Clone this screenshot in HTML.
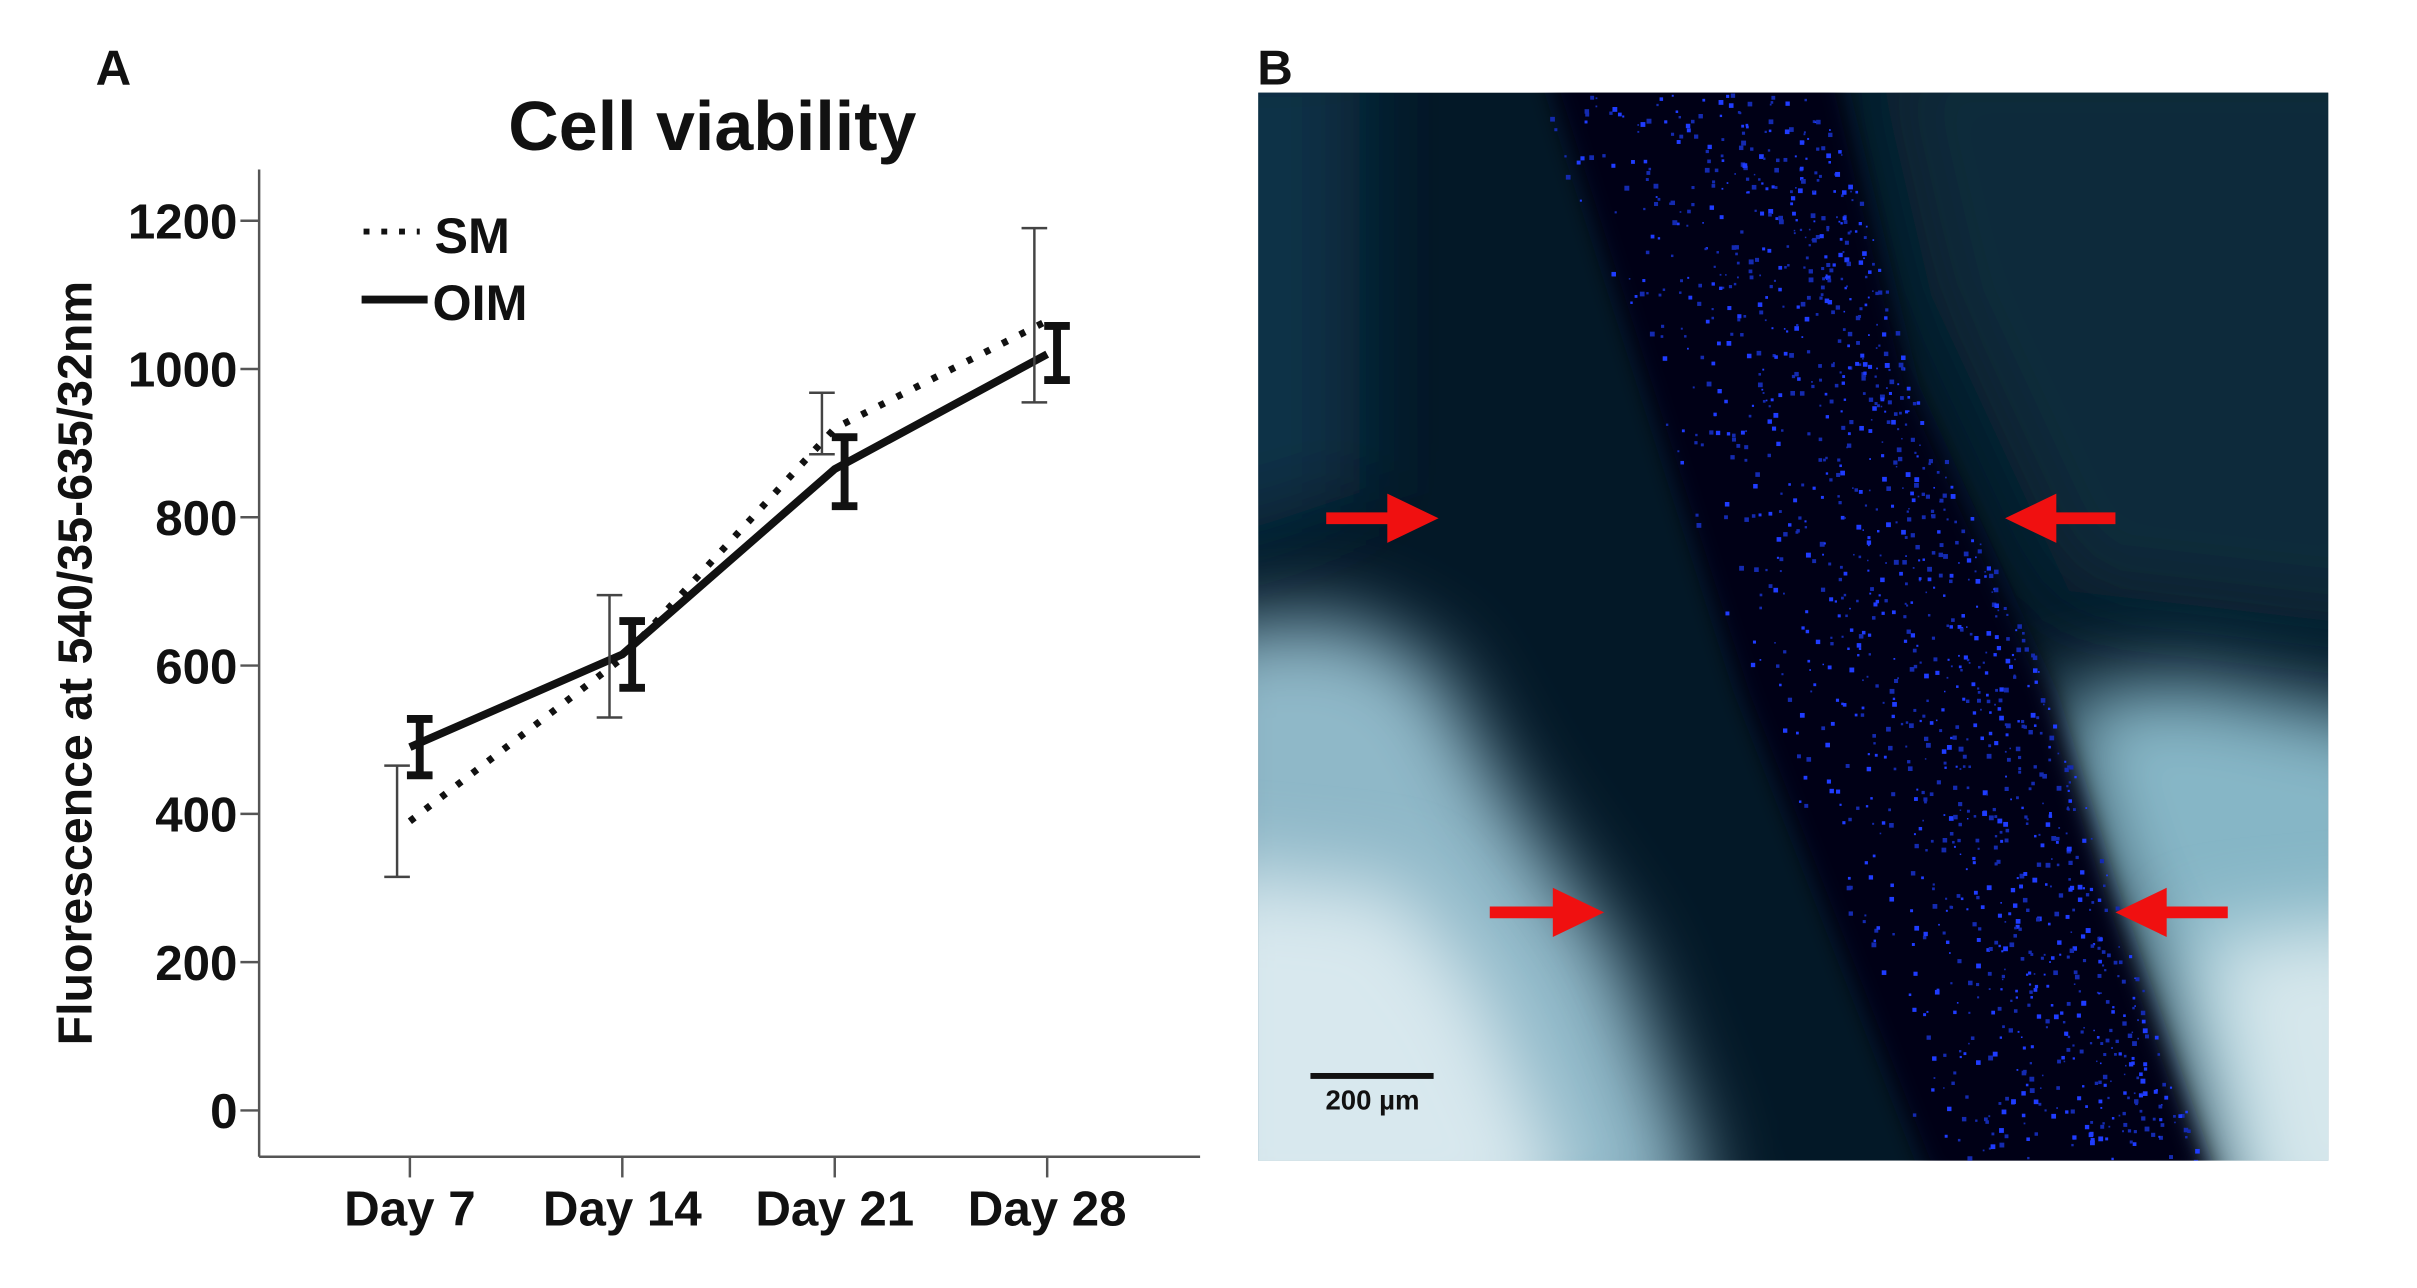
<!DOCTYPE html>
<html><head><meta charset="utf-8">
<style>
html,body{margin:0;padding:0;background:#fff;}
svg{display:block;}
text{font-family:"Liberation Sans",Arial,sans-serif;font-weight:bold;fill:#111;}
</style></head>
<body>
<svg id="fig" width="2417" height="1288" viewBox="0 0 2417 1288" xmlns="http://www.w3.org/2000/svg">
<defs>
<filter id="blur30" x="-60%" y="-60%" width="220%" height="220%"><feGaussianBlur stdDeviation="40"/></filter>
<filter id="blur12" x="-20%" y="-20%" width="140%" height="140%"><feGaussianBlur stdDeviation="12"/></filter>
<clipPath id="imgclip"><rect x="1277" y="94" width="1086" height="1084"/></clipPath>
</defs>
<g transform="scale(0.9853)">
<text x="97" y="86" font-size="50">A</text>
<text x="723" y="152" font-size="71" text-anchor="middle">Cell viability</text>
<text transform="translate(93,673) rotate(-90)" font-size="49" text-anchor="middle">Fluorescence at 540/35-635/32nm</text>
<g id="axes"></g>
<g id="marks"></g>
<g>
<line x1="369" y1="235" x2="426" y2="235" stroke="#111" stroke-width="6" stroke-dasharray="6,12"/>
<text x="441" y="257" font-size="51">SM</text>
<line x1="367" y1="304" x2="434" y2="304" stroke="#111" stroke-width="8"/>
<text x="439" y="325" font-size="51">OIM</text>
</g>

<text x="1276" y="86" font-size="50">B</text>
<g clip-path="url(#imgclip)">
<rect x="1277" y="94" width="1086" height="1084" fill="#031827"/>
<polygon points="1900,40 2450,40 2450,640 2100,600 1960,300" fill="#0a2a3a" filter="url(#blur30)"/>
<polygon points="1200,40 1380,40 1380,500 1200,560" fill="#0a3346" filter="url(#blur30)"/>
<polygon points="1200,640 1362,626 1455,673 1534,814 1643,970 1722,1178 1722,1260 1200,1260" fill="#8fb8c8" filter="url(#blur30)"/>
<polygon points="1200,880 1420,900 1500,1000 1580,1178 1580,1260 1200,1260" fill="#d8e8ee" filter="url(#blur30)"/>
<polygon points="2081,704 2222,689 2450,736 2450,1260 2280,1260 2191,1017 2128,876" fill="#86b6c6" filter="url(#blur30)"/>
<polygon points="2230,950 2450,930 2450,1260 2290,1260" fill="#d6e7ec" filter="url(#blur30)"/>
<polygon points="1565,60 1862,60 1940,391 2081,704 2144,908 2245,1200 1960,1200 1768,704" fill="#020619" filter="url(#blur12)"/>
<g id="speckles"></g>
</g>
<g>
<polygon points="1346,520 1408,520 1408,501 1460,526 1408,551 1408,532 1346,532" fill="#f01010"/>
<polygon points="2147,520 2087,520 2087,501 2035,526 2087,551 2087,532 2147,532" fill="#f01010"/>
<polygon points="1512,920 1576,920 1576,901 1628,926 1576,951 1576,932 1512,932" fill="#f01010"/>
<polygon points="2261,920 2199,920 2199,901 2147,926 2199,951 2199,932 2261,932" fill="#f01010"/>
</g>
<rect x="1330" y="1089" width="125" height="6" fill="#111"/>
<text x="1393" y="1126" font-size="28" text-anchor="middle">200 µm</text>
</g>
</svg>
<script>
const categories = ["Day 7","Day 14","Day 21","Day 28"];
const yTicks = [0,200,400,600,800,1000,1200];
const smMean = [390,610,920,1065];
const smLow = [315,530,885,955];
const smHigh = [465,695,968,1190];
const oimMean = [490,615,865,1020];
const oimLow = [452,570,815,985];
const oimHigh = [528,660,908,1058];

const NS = "http://www.w3.org/2000/svg";
const x0 = 416, xStep = 215.6;
function xScale(i){ return x0 + i*xStep; }
function yScale(v){ return 1127 - v*(1127-224)/1200; }
function mk(tag, attrs, parent){
  const e = document.createElementNS(NS, tag);
  for (const k in attrs) e.setAttribute(k, attrs[k]);
  parent.appendChild(e);
  return e;
}
const axes = document.getElementById('axes');
const marks = document.getElementById('marks');

const yl = mk('line',{x1:263,y1:172,x2:263,y2:1174,stroke:'#555','stroke-width':2.5},axes);


const xl = mk('line',{x1:263,y1:1174,x2:1218,y2:1174,stroke:'#555','stroke-width':2.5},axes);



yTicks.forEach(v=>{
  const y = yScale(v);
  const t = mk('line',{x1:244,y1:y,x2:263,y2:y,stroke:'#555','stroke-width':2.5},axes);
  
  
  const lb = mk('text',{x:241,y:y+18,'font-size':50,'text-anchor':'end'},axes);
  lb.textContent = v;
  
  
});
categories.forEach((c,i)=>{
  const x = xScale(i);
  const t = mk('line',{x1:x,y1:1174,x2:x,y2:1195,stroke:'#555','stroke-width':2.5},axes);
  
  
  const lb = mk('text',{x:x,y:1244,'font-size':50,'text-anchor':'middle'},axes);
  lb.textContent = c;
  
  
});

const smPts = smMean.map((v,i)=>xScale(i)+','+yScale(v)).join(' ');
const smLine = mk('polyline',{points:smPts,fill:'none',stroke:'#111','stroke-width':7,'stroke-dasharray':'6,14'},marks);


const oimPts = oimMean.map((v,i)=>xScale(i)+','+yScale(v)).join(' ');
const oimLine = mk('polyline',{points:oimPts,fill:'none',stroke:'#111','stroke-width':8,'stroke-linejoin':'round'},marks);



function errBar(x, lo, hi, w, half, color, name){
  const g = mk('g',{},marks);
  
  
  mk('line',{x1:x,y1:yScale(lo),x2:x,y2:yScale(hi),stroke:color,'stroke-width':w},g);
  mk('line',{x1:x-half,y1:yScale(lo),x2:x+half,y2:yScale(lo),stroke:color,'stroke-width':w},g);
  mk('line',{x1:x-half,y1:yScale(hi),x2:x+half,y2:yScale(hi),stroke:color,'stroke-width':w},g);
}
categories.forEach((c,i)=>{
  errBar(xScale(i)-13, smLow[i], smHigh[i], 2.5, 13, '#444', 'sm-error-bar');
  errBar(xScale(i)+10, oimLow[i], oimHigh[i], 8, 13, '#111', 'oim-error-bar');
});

const sp = document.getElementById('speckles');
let seed = 12345;
function rnd(){ seed = (seed*1103515245 + 12345) % 2147483648; return seed/2147483648; }
function bandLeft(y){ const t=(y-94)/1084; return 1565 + t*(1956-1565) - 10; }
function bandRight(y){
  if (y<391) return 1862 + (y-94)/(391-94)*(1940-1862);
  if (y<704) return 1940 + (y-391)/(704-391)*(2081-1940);
  if (y<908) return 2081 + (y-704)/(908-704)*(2144-2081);
  return 2144 + (y-908)/(1178-908)*(2238-2144);
}
let html = '';
for (let k=0;k<1400;k++){
  const y = 94 + rnd()*1084;
  const l = bandLeft(y), r = bandRight(y);
  const x = l + Math.pow(rnd(),0.6)*(r-l);
  const s = 1.5 + rnd()*3.5;
  const c = rnd()<0.4 ? '#1f3cff' : '#142ab0';
  html += '<rect x="'+x.toFixed(1)+'" y="'+y.toFixed(1)+'" width="'+s.toFixed(1)+'" height="'+s.toFixed(1)+'" fill="'+c+'"/>';
}
sp.innerHTML = html;
</script>
</body></html>
